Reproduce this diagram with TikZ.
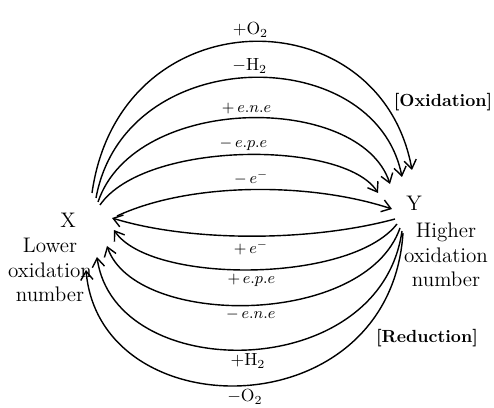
\documentclass[tikz,border=0pt]{standalone}
\usetikzlibrary{arrows.meta}

\begin{document}
\begin{tikzpicture}[
    x=0.02cm, y=-0.02cm,
    redox/.style={-{Straight Barb[length=5pt, width=7pt]}, line width=0.8pt},
    tag/.style={inner sep=2pt},
    side/.style={align=center, font=\bfseries}
]
    \useasboundingbox (0,0) rectangle (494,408);

    % ==========================================
    % SPECIES (X lower / Y higher)
    % ==========================================
    \node[font=\large] (X) at (68,220) {X};
    \node[align=center, font=\large] (x_txt) at (50,270) {Lower\\oxidation\\number};
    \node[font=\large] (Y) at (414,203) {Y};
    \node[align=center, font=\large] (y_txt) at (446,255) {Higher\\oxidation\\number};

    \node[side] (ox_tag)  at (443,102) {[Oxidation]};
    \node[side] (red_tag) at (427,338) {[Reduction]};

    % ==========================================
    % OXIDATION ARCS (X -> Y)
    % ==========================================
    \coordinate (ox_s1) at (92,193);   \coordinate (ox_e1) at (412,170);
    \coordinate (ox_s2) at (96,198);   \coordinate (ox_e2) at (402,177);
    \coordinate (ox_s3) at (98,202);   \coordinate (ox_e3) at (390,184);
    \coordinate (ox_s4) at (100,205);  \coordinate (ox_e4) at (378,193);
    \coordinate (ox_s5) at (117,216);  \coordinate (ox_e5) at (392,209);

    \draw[redox] (ox_s1) .. controls (120,-5) and (380,-5) .. (ox_e1)
        node[tag, midway, above] {$+\mathrm{O}_2$};
    \draw[redox] (ox_s2) .. controls (125,41) and (375,41) .. (ox_e2)
        node[tag, midway, above] {$-\mathrm{H}_2$};
    \draw[redox] (ox_s3) .. controls (135,93) and (360,93) .. (ox_e3)
        node[tag, midway, above, font=\small] {$+\,e.n.e$};
    \draw[redox] (ox_s4) .. controls (145,140) and (345,140) .. (ox_e4)
        node[tag, midway, above, font=\small] {$-\,e.p.e$};
    \draw[redox] (ox_s5) .. controls (190,182) and (310,182) .. (ox_e5)
        node[tag, midway, above, font=\small] {$-\,e^-$};

    % ==========================================
    % REDUCTION ARCS (Y -> X)
    % ==========================================
    \coordinate (rd_s1) at (395,219);  \coordinate (rd_e1) at (112,218);
    \coordinate (rd_s2) at (397,224);  \coordinate (rd_e2) at (114,230);
    \coordinate (rd_s3) at (400,228);  \coordinate (rd_e3) at (107,246);
    \coordinate (rd_s4) at (402,231);  \coordinate (rd_e4) at (97,257);
    \coordinate (rd_s5) at (403,233);  \coordinate (rd_e5) at (86,270);

    \draw[redox] (rd_s1) .. controls (310,242) and (190,242) .. (rd_e1)
        node[tag, midway, below, font=\small] {$+\,e^-$};
    \draw[redox] (rd_s2) .. controls (350,284) and (150,284) .. (rd_e2)
        node[tag, midway, below, font=\small] {$+\,e.p.e$};
    \draw[redox] (rd_s3) .. controls (365,328) and (135,328) .. (rd_e3)
        node[tag, midway, below, font=\small] {$-\,e.n.e$};
    \draw[redox] (rd_s4) .. controls (380,385) and (115,385) .. (rd_e4)
        node[tag, midway, below] {$+\mathrm{H}_2$};
    \draw[redox] (rd_s5) .. controls (390,430) and (100,430) .. (rd_e5)
        node[tag, midway, below] {$-\mathrm{O}_2$};

\end{tikzpicture}
\end{document}
